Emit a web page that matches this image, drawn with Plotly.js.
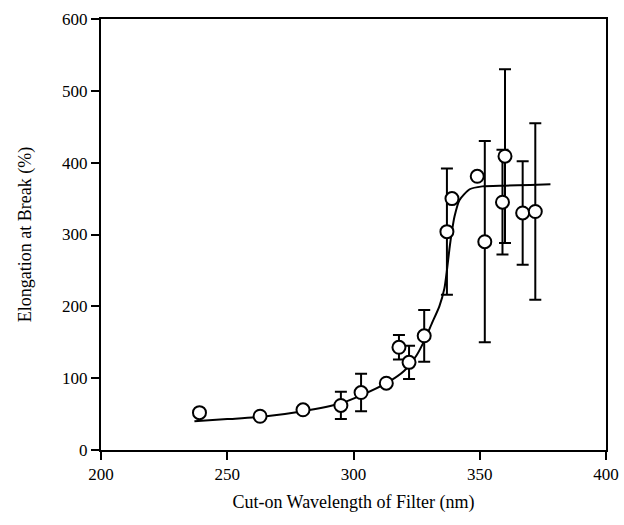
<!DOCTYPE html>
<html><head><meta charset="utf-8">
<script src="https://cdn.plot.ly/plotly-3.0.1.min.js"></script>
<style>body{margin:0;background:#fff}#c{width:624px;height:525px}</style>
</head><body><div id="c"></div>
<script>
// Measured points
const wavelength = [239, 263, 280, 295, 303, 313, 318, 322, 328, 337, 339, 349, 352, 359, 360, 367, 372];
const elongation = [52, 47, 56, 62, 80, 93, 143, 122, 159, 304, 350, 381, 290, 345, 409, 330, 332];
const errorBar   = [0, 0, 0, 19, 26, 0, 17, 23, 36, 88, 0, 0, 140, 73, 121, 72, 123];
// Fitted curve
const fitX = [237, 250, 263, 280, 295, 303, 313, 320, 325, 328, 331, 334, 336, 337, 338, 339, 340, 342, 346, 351, 360, 370, 378];
const fitY = [40, 43, 46, 54, 65, 76, 93, 110, 132, 152, 176, 200, 225, 250, 280, 305, 325, 348, 363, 367, 368, 369, 370];

const FAM = '"Times New Roman", "Liberation Serif", Times, serif';
const axisFont = {family: FAM, size: 17, color: '#000'};
const traces = [
  {x: fitX, y: fitY, mode: 'lines', line: {color: '#000', width: 2, shape: 'spline', smoothing: 0.6}, hoverinfo: 'skip'},
  {x: wavelength, y: elongation, mode: 'markers',
   error_y: {type: 'data', array: errorBar, visible: true, color: '#000', thickness: 2, width: 6},
   marker: {symbol: 'circle', size: 13, color: '#fff', line: {color: '#000', width: 2}}}
];
const layout = {
  width: 624, height: 525, showlegend: false,
  paper_bgcolor: '#fff', plot_bgcolor: '#fff',
  margin: {l: 101, r: 18, t: 19, b: 75},
  font: axisFont,
  xaxis: {range: [200, 400], tickvals: [200, 250, 300, 350, 400], showgrid: false, zeroline: false,
          showline: true, mirror: true, linecolor: '#000', linewidth: 2,
          ticks: 'outside', ticklen: 8, tickwidth: 2, tickcolor: '#000', tickfont: axisFont,
          title: {text: 'Cut-on Wavelength of Filter (nm)', font: {family: FAM, size: 18, color: '#000'}, standoff: 12}},
  yaxis: {range: [0, 600], tickvals: [0, 100, 200, 300, 400, 500, 600], showgrid: false, zeroline: false,
          showline: true, mirror: true, linecolor: '#000', linewidth: 2,
          ticks: 'outside', ticklen: 8, tickwidth: 2, tickcolor: '#000', tickfont: axisFont,
          title: {text: 'Elongation at Break (%)', font: {family: FAM, size: 18, color: '#000'}, standoff: 26}}
};
Plotly.newPlot('c', traces, layout, {displayModeBar: false, staticPlot: true});
</script></body></html>
